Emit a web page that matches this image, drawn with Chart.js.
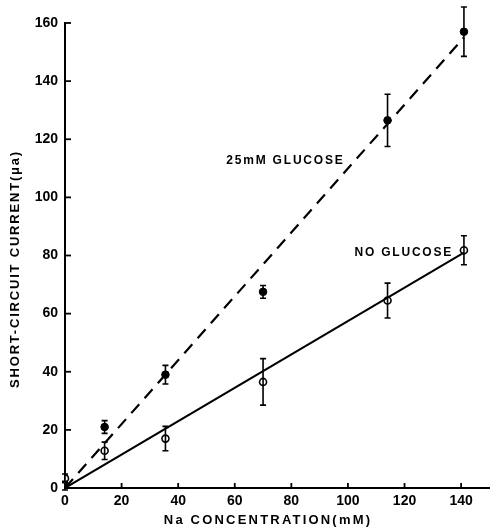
<!DOCTYPE html>
<html>
<head>
<meta charset="utf-8">
<script src="https://cdn.jsdelivr.net/npm/chart.js@4"></script>
<style>
html,body{margin:0;padding:0;background:#fff;}
#wrap{width:495px;height:527px;position:relative;}
</style>
</head>
<body>
<div id="wrap"><canvas id="c" width="495" height="527"></canvas></div>
<script>
// Data
const naConc = [0, 14, 35.5, 70, 114, 141];
const glucoseCurrent = [0.8, 21, 39, 67.5, 126.5, 157];
const glucoseErr = [1.5, 2.2, 3.2, 2.2, 9, 8.5];
const noGlucoseCurrent = [3.3, 12.8, 17, 36.5, 64.5, 81.8];
const noGlucoseErr = [1.5, 3, 4.2, 8, 6, 5];
const glucoseFitX = [0, 141];
const glucoseFitY = [0, 155];
const noGlucoseFitX = [0, 141];
const noGlucoseFitY = [0, 81];
const xTicks = [0, 20, 40, 60, 80, 100, 120, 140];
const yTicks = [0, 20, 40, 60, 80, 100, 120, 140, 160];
const xTitle = 'Na CONCENTRATION(mM)';
const yTitle = 'SHORT-CIRCUIT CURRENT(μa)';

const toPts = (xs, ys) => xs.map((x, i) => ({x: x, y: ys[i]}));

const tickFont = {family: "'Liberation Sans Narrow', 'Liberation Sans', Arial", size: 14, weight: 'bold'};

const errorBars = {
  id: 'errorBars',
  afterDatasetsDraw(chart) {
    const ctx = chart.ctx;
    const xs = chart.scales.x, ys = chart.scales.y;
    ctx.save();
    ctx.strokeStyle = '#000';
    ctx.lineWidth = 1.6;
    chart.data.datasets.forEach(ds => {
      if (!ds.errors) return;
      ds.data.forEach((p, i) => {
        const e = ds.errors[i];
        const px = xs.getPixelForValue(p.x);
        const top = ys.getPixelForValue(p.y + e);
        const bot = ys.getPixelForValue(p.y - e);
        ctx.beginPath();
        ctx.moveTo(px, top); ctx.lineTo(px, bot);
        ctx.moveTo(px - 3, top); ctx.lineTo(px + 3, top);
        ctx.moveTo(px - 3, bot); ctx.lineTo(px + 3, bot);
        ctx.stroke();
      });
    });
    // inward tick marks
    ctx.lineWidth = 1.8;
    const ca = chart.chartArea;
    yTicks.forEach(v => {
      const py = ys.getPixelForValue(v);
      ctx.beginPath(); ctx.moveTo(ca.left, py); ctx.lineTo(ca.left + 6, py); ctx.stroke();
    });
    xTicks.forEach(v => {
      const px = xs.getPixelForValue(v);
      ctx.beginPath(); ctx.moveTo(px, ca.bottom); ctx.lineTo(px, ca.bottom - 5); ctx.stroke();
    });
    // series labels
    ctx.fillStyle = '#000';
    ctx.font = "bold 12px 'Liberation Sans', Arial";
    ctx.textBaseline = 'middle';
    ctx.textAlign = 'left';
    if (ctx.letterSpacing !== undefined) ctx.letterSpacing = '1.8px';
    ctx.fillText('25mM GLUCOSE', xs.getPixelForValue(57), ys.getPixelForValue(112.5));
    ctx.fillText('NO GLUCOSE', xs.getPixelForValue(102.3), ys.getPixelForValue(81));
    // axis titles
    ctx.textAlign = 'center';
    ctx.font = "bold 13px 'Liberation Sans', Arial";
    if (ctx.letterSpacing !== undefined) ctx.letterSpacing = '2.2px';
    ctx.fillText(xTitle, 268, 520);
    ctx.save();
    ctx.translate(15, 269);
    ctx.rotate(-Math.PI / 2);
    if (ctx.letterSpacing !== undefined) ctx.letterSpacing = '1.8px';
    ctx.fillText(yTitle, 0, 0);
    ctx.restore();
    ctx.restore();
  }
};

new Chart(document.getElementById('c'), {
  type: 'scatter',
  data: {
    datasets: [
      {
        label: 'glucose fit', type: 'line', data: toPts(glucoseFitX, glucoseFitY),
        borderColor: '#000', borderWidth: 2.2, borderDash: [12, 8], pointRadius: 0, fill: false
      },
      {
        label: 'no glucose fit', type: 'line', data: toPts(noGlucoseFitX, noGlucoseFitY),
        borderColor: '#000', borderWidth: 2, pointRadius: 0, fill: false
      },
      {
        label: '25mM GLUCOSE', data: toPts(naConc, glucoseCurrent), errors: glucoseErr,
        pointRadius: 3.8, pointBackgroundColor: '#000', pointBorderColor: '#000', pointBorderWidth: 1
      },
      {
        label: 'NO GLUCOSE', data: toPts(naConc, noGlucoseCurrent), errors: noGlucoseErr,
        pointRadius: 3.5, pointBackgroundColor: '#fff', pointBorderColor: '#000', pointBorderWidth: 1.6
      }
    ]
  },
  options: {
    responsive: false,
    animation: false,
    layout: {padding: {top: 23, right: 1, left: 0, bottom: 0}},
    plugins: {legend: {display: false}, tooltip: {enabled: false}},
    scales: {
      x: {
        type: 'linear', min: 0, max: 150,
        afterBuildTicks: s => { s.ticks = xTicks.map(v => ({value: v})); },
        afterFit: s => { s.height = 39; },
        ticks: {color: '#000', font: tickFont, padding: 5, includeBounds: false, maxRotation: 0},
        grid: {display: false, drawTicks: false},
        border: {display: true, color: '#000', width: 2},
        title: {display: false}
      },
      y: {
        type: 'linear', min: 0, max: 160,
        afterBuildTicks: s => { s.ticks = yTicks.map(v => ({value: v})); },
        afterFit: s => { s.width = 65; },
        ticks: {color: '#000', font: tickFont, padding: 7},
        grid: {display: false, drawTicks: false},
        border: {display: true, color: '#000', width: 2},
        title: {display: false}
      }
    }
  },
  plugins: [errorBars]
});
</script>
</body>
</html>
